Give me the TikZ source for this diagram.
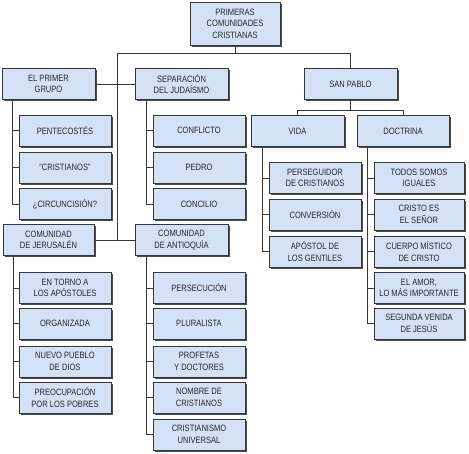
\documentclass[tikz,border=0pt]{standalone}
\usepackage{fontspec}
\setmainfont[FakeStretch=0.82]{Liberation Sans}
\usepackage{tikz}
\usetikzlibrary{shadows}
\usepackage{xcolor}
\definecolor{cajafondo}{RGB}{212,226,248}
\definecolor{linea}{RGB}{55,55,55}

\begin{document}
\begin{tikzpicture}[
    x=1pt, y=-1pt,
    caja/.style={draw=linea, line width=0.7pt, fill=cajafondo, align=center,
      inner sep=1pt, minimum width=92pt, minimum height=31pt, text=black!85,
      font=\fontsize{9.2}{11.5}\selectfont,
      drop shadow={shadow xshift=2pt, shadow yshift=-2pt, fill=black!70, opacity=1}},
    rama/.style={draw=linea, line width=0.8pt}
]
  \useasboundingbox (0,0) rectangle (469,454);

  % --- RAIZ ---
  \node[caja, minimum width=90pt, minimum height=43pt] (raiz) at (235,23.5) {PRIMERAS\\COMUNIDADES\\CRISTIANAS};

  % --- PRIMER NIVEL ---
  \node[caja, minimum width=93pt] (grupo) at (48.5,84) {EL PRIMER\\GRUPO};
  \node[caja, minimum width=93pt] (separacion) at (181.5,84) {SEPARACIÓN\\DEL JUDAÍSMO};
  \node[caja, minimum width=93pt] (sanpablo) at (350.5,84) {SAN PABLO};
  \node[caja, minimum width=91pt] (jerusalen) at (48.5,240) {COMUNIDAD\\DE JERUSALÉN};
  \node[caja, minimum width=93pt] (antioquia) at (181.5,240) {COMUNIDAD\\DE ANTIOQUÍA};
  \node[caja, minimum width=93pt] (vida) at (297.5,131) {VIDA};
  \node[caja, minimum width=92pt] (doctrina) at (403,131) {DOCTRINA};

  % --- EL PRIMER GRUPO ---
  \node[caja] (pentecostes) at (65,130.5) {PENTECOSTÉS};
  \node[caja] (cristianos) at (65,167.5) {"CRISTIANOS"};
  \node[caja] (circuncision) at (65,204) {¿CIRCUNCISIÓN?};

  % --- SEPARACION ---
  \node[caja] (conflicto) at (199,130.5) {CONFLICTO};
  \node[caja] (pedro) at (199,167.5) {PEDRO};
  \node[caja] (concilio) at (199,204) {CONCILIO};

  % --- JERUSALEN ---
  \node[caja] (apostoles) at (65,288) {EN TORNO A\\LOS APÓSTOLES};
  \node[caja] (organizada) at (65,323.5) {ORGANIZADA};
  \node[caja] (pueblo) at (65,361.5) {NUEVO PUEBLO\\DE DIOS};
  \node[caja] (pobres) at (65,397.5) {PREOCUPACIÓN\\POR LOS POBRES};

  % --- ANTIOQUIA ---
  \node[caja] (persecucion) at (199,288) {PERSECUCIÓN};
  \node[caja] (pluralista) at (199,323.5) {PLURALISTA};
  \node[caja] (profetas) at (199,361.5) {PROFETAS\\Y DOCTORES};
  \node[caja] (nombre) at (199,397.5) {NOMBRE DE\\CRISTIANOS};
  \node[caja] (universal) at (199,434.5) {CRISTIANISMO\\UNIVERSAL};

  % --- VIDA ---
  \node[caja] (perseguidor) at (315,178) {PERSEGUIDOR\\DE CRISTIANOS};
  \node[caja] (conversion) at (315,214.5) {CONVERSIÓN};
  \node[caja] (gentiles) at (315,251.5) {APÓSTOL DE\\LOS GENTILES};

  % --- DOCTRINA ---
  \node[caja, minimum width=90pt] (iguales) at (419,178) {TODOS SOMOS\\IGUALES};
  \node[caja, minimum width=90pt] (senor) at (419,214.5) {CRISTO ES\\EL SEÑOR};
  \node[caja, minimum width=90pt] (cuerpo) at (419,251.5) {CUERPO MÍSTICO\\DE CRISTO};
  \node[caja, minimum width=90pt] (amor) at (419,288) {EL AMOR,\\LO MÁS IMPORTANTE};
  \node[caja, minimum width=90pt] (venida) at (419,323.5) {SEGUNDA VENIDA\\DE JESÚS};

  % --- CONECTORES ---
  \coordinate (cruce) at (117,53);
  \coordinate (eje) at (117,240);
  \coordinate (pablo) at (350.5,110);

  \draw[rama] (raiz) |- (cruce);
  \draw[rama] (cruce) -| (sanpablo);
  \draw[rama] (cruce) -- (eje);
  \draw[rama] (grupo) -- (separacion);
  \draw[rama] (jerusalen) -- (antioquia);

  \draw[rama] (sanpablo) -- (pablo);
  \draw[rama] (pablo) -| (vida);
  \draw[rama] (pablo) -| (doctrina);

  \foreach \hijo in {pentecostes, cristianos, circuncision}
    \draw[rama] ([xshift=11pt]grupo.south west) |- (\hijo);
  \foreach \hijo in {conflicto, pedro, concilio}
    \draw[rama] ([xshift=12pt]separacion.south west) |- (\hijo);
  \foreach \hijo in {apostoles, organizada, pueblo, pobres}
    \draw[rama] ([xshift=11pt]jerusalen.south west) |- (\hijo);
  \foreach \hijo in {persecucion, pluralista, profetas, nombre, universal}
    \draw[rama] ([xshift=12pt]antioquia.south west) |- (\hijo);
  \foreach \hijo in {perseguidor, conversion, gentiles}
    \draw[rama] ([xshift=12pt]vida.south west) |- (\hijo);
  \foreach \hijo in {iguales, senor, cuerpo, amor, venida}
    \draw[rama] ([xshift=11pt]doctrina.south west) |- (\hijo);

\end{tikzpicture}
\end{document}
